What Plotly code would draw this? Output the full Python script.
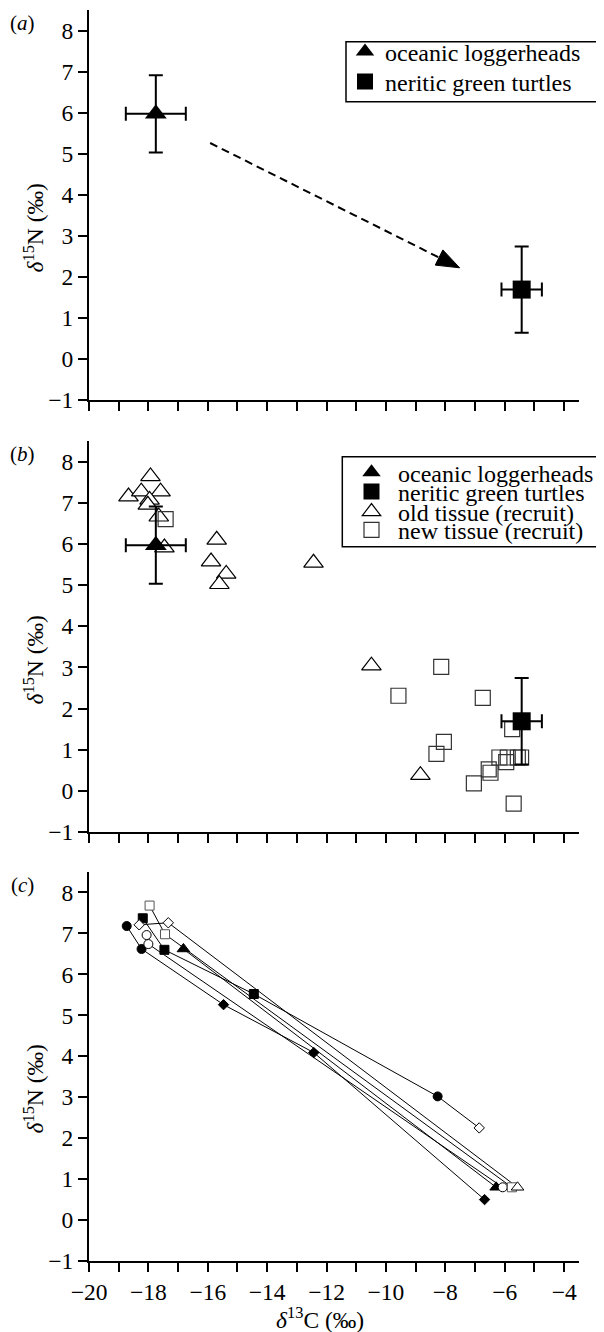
import plotly.graph_objects as go

FONT = "Liberation Serif"
FS = 23.5
LFS = 24

# ---------------- data ----------------
# group means (panels a, b)
ocean_x = [-17.75]
ocean_y = [5.97]
ocean_xerr = [1.01]
ocean_yerr = [0.94]

neritic_x = [-5.43]
neritic_y = [1.69]
neritic_xerr = [0.68]
neritic_yerr = [1.05]

# panel (a) arrow: start and tip (data units)
arrow_start = [-15.92, 5.26]
arrow_tip = [-7.52, 2.22]

# panel (b) recruits
old_x = [-18.67, -18.24, -17.93, -17.59, -17.96, -18.02, -17.65, -17.46,
         -15.70, -15.89, -15.38, -15.61, -12.44, -10.49, -8.84]
old_y = [7.15, 7.27, 7.64, 7.27, 7.07, 6.95, 6.66, 5.91,
         6.10, 5.57, 5.27, 5.02, 5.54, 3.04, 0.38]
new_x = [-17.42, -8.14, -9.58, -6.74, -5.75, -8.05, -8.30, -7.04, -6.48,
         -6.54, -6.18, -5.95, -5.90, -5.56, -5.45, -5.70]
new_y = [6.60, 3.01, 2.31, 2.26, 1.50, 1.19, 0.90, 0.18, 0.44,
         0.52, 0.81, 0.70, 0.81, 0.81, 0.81, -0.31]

# panel (c) connected tracks (per-point symbols / fills)
c_t1_x = [-18.73, -18.23, -15.47, -12.43, -6.68]
c_t1_y = [7.18, 6.62, 5.26, 4.09, 0.50]
c_t1_sym = ["circle", "circle", "diamond", "diamond", "diamond"]
c_t1_open = [False, False, False, False, False]

c_t2_x = [-18.19, -17.46, -14.45, -8.26, -6.86]
c_t2_y = [7.37, 6.60, 5.52, 3.02, 2.25]
c_t2_sym = ["square", "square", "square", "circle", "diamond"]
c_t2_open = [False, False, False, False, True]

c_t3_x = [-16.82, -6.29]
c_t3_y = [6.62, 0.80]
c_t3_sym = ["triangle-up", "triangle-up"]
c_t3_open = [False, False]

c_t4_x = [-18.06, -18.00, -6.07]
c_t4_y = [6.96, 6.74, 0.80]
c_t4_sym = ["circle", "circle", "circle"]
c_t4_open = [True, True, True]

c_t5_x = [-17.96, -17.44, -5.76]
c_t5_y = [7.68, 6.98, 0.80]
c_t5_sym = ["square", "square", "square"]
c_t5_open = [True, True, True]

c_t6_x = [-18.31, -17.33, -5.57]
c_t6_y = [7.21, 7.26, 0.80]
c_t6_sym = ["diamond", "diamond", "triangle-up"]
c_t6_open = [True, True, True]

x_ticks = list(range(-20, -3))
x_major = [v for v in x_ticks if v % 2 == 0]
x_minor = [v for v in x_ticks if v % 2 != 0]
x_major_labels = [str(v).replace("-", "\u2212") for v in x_major]
y_ticks = list(range(-1, 9))

legend_a_names = ["oceanic loggerheads", "neritic green turtles"]
legend_b_names = ["oceanic loggerheads", "neritic green turtles",
                  "old tissue (recruit)", "new tissue (recruit)"]

# ---------------- layout geometry (page pixels) ----------------
BODY = 8                      # default body margin of the html page
W, H = 604 - BODY, 1332 - BODY
PLOT_L, PLOT_R, PLOT_T, PLOT_B = 89, 579, 10, 1261   # plot area on the page
ML = PLOT_L - BODY
MT = PLOT_T - BODY
MR = BODY + W - PLOT_R
MB = BODY + H - PLOT_B
PW = PLOT_R - PLOT_L
PH = PLOT_B - PLOT_T
XR = [-20, -3.5]
YR = [-1, 8.5]
KX = PW / (XR[1] - XR[0])


def px(x):
    return (x - PLOT_L) / PW


def py(y):
    return (PLOT_B - y) / PH


dom_a = [py(400), 1.0]
dom_b = [py(832), py(441)]
dom_c = [0.0, py(872)]
KY = (dom_a[1] - dom_a[0]) * PH / (YR[1] - YR[0])

fig = go.Figure()


def err(vals):
    return dict(type="data", array=vals, color="black", thickness=2, width=7)


def means(xa, ya, legend_ids):
    fig.add_trace(go.Scatter(
        x=ocean_x, y=ocean_y, mode="markers", name=legend_a_names[0],
        xaxis=xa, yaxis=ya, legend=legend_ids[0],
        error_x=err(ocean_xerr), error_y=err(ocean_yerr),
        marker=dict(symbol="triangle-up", size=19, color="black")))
    fig.add_trace(go.Scatter(
        x=neritic_x, y=neritic_y, mode="markers", name=legend_a_names[1],
        xaxis=xa, yaxis=ya, legend=legend_ids[1],
        error_x=err(neritic_xerr), error_y=err(neritic_yerr),
        marker=dict(symbol="square", size=18, color="black")))


# panel (a)
means("x", "y", ["legend", "legend2"])

# panel (b)
fig.add_trace(go.Scatter(
    x=old_x, y=old_y, mode="markers", name=legend_b_names[2],
    xaxis="x2", yaxis="y2", legend="legend5",
    marker=dict(symbol="triangle-up", size=17, color="white",
                line=dict(color="black", width=1.2))))
fig.add_trace(go.Scatter(
    x=new_x, y=new_y, mode="markers", name=legend_b_names[3],
    xaxis="x2", yaxis="y2", legend="legend6",
    marker=dict(symbol="square", size=15, color="rgba(255,255,255,0)",
                line=dict(color="#333333", width=1.2))))
means("x2", "y2", ["legend3", "legend4"])

# panel (c)
SIZES = {"circle": 9, "square": 9, "diamond": 8, "triangle-up": 11}
tracks = [
    (c_t1_x, c_t1_y, c_t1_sym, c_t1_open),
    (c_t2_x, c_t2_y, c_t2_sym, c_t2_open),
    (c_t3_x, c_t3_y, c_t3_sym, c_t3_open),
    (c_t4_x, c_t4_y, c_t4_sym, c_t4_open),
    (c_t5_x, c_t5_y, c_t5_sym, c_t5_open),
    (c_t6_x, c_t6_y, c_t6_sym, c_t6_open),
]
for tx, ty, tsym, topen in tracks:
    fig.add_trace(go.Scatter(
        x=tx, y=ty, mode="lines", showlegend=False, xaxis="x3", yaxis="y3",
        line=dict(color="black", width=1), hoverinfo="skip"))
for tx, ty, tsym, topen in tracks:
    fig.add_trace(go.Scatter(
        x=tx, y=ty, mode="markers", showlegend=False, xaxis="x3", yaxis="y3",
        marker=dict(symbol=tsym, size=[SIZES[s] for s in tsym], opacity=1,
                    color=["#ffffff" if o else "#000000" for o in topen],
                    line=dict(color=["#555555" if (o and s == "square") else "#000000"
                                     for s, o in zip(tsym, topen)], width=1))))

# ---------------- axes ----------------
axis_common = dict(showline=True, linecolor="black", linewidth=2,
                   ticks="outside", ticklen=9, tickwidth=1.5, tickcolor="black",
                   showgrid=False, zeroline=False,
                   tickfont=dict(family=FONT, size=FS, color="black"))
minor_x = dict(tickmode="array", tickvals=x_minor, ticks="outside", ticklen=9,
               tickwidth=1.5, tickcolor="black", showgrid=False)

for i, dom in zip(["", "2", "3"], [dom_a, dom_b, dom_c]):
    fig.update_layout(**{
        "xaxis" + i: dict(axis_common, range=XR, domain=[0, 1],
                          anchor="y" + i, tickmode="array", tickvals=x_major,
                          ticktext=x_major_labels, showticklabels=(i == "3"),
                          minor=minor_x),
        "yaxis" + i: dict(axis_common, range=YR, domain=dom,
                          anchor="x" + i, tickmode="array", tickvals=y_ticks),
    })

# ---------------- legends ----------------
leg_font = dict(family=FONT, size=LFS, color="black")


def leg(xpix, ypix, itemw):
    return dict(x=px(xpix), y=py(ypix - 3), xanchor="left", yanchor="middle",
                bgcolor="rgba(0,0,0,0)", borderwidth=0, font=leg_font,
                itemwidth=itemw)


fig.update_layout(
    legend=leg(345, 55, 30),
    legend2=leg(345, 85, 30),
    legend3=leg(345, 475.7, 43),
    legend4=leg(345, 495, 43),
    legend5=leg(345, 515, 43),
    legend6=leg(345, 533.3, 43),
)

# arrow geometry (computed in screen pixels from start/tip)
sx = (arrow_tip[0] - arrow_start[0]) * KX
sy = -(arrow_tip[1] - arrow_start[1]) * KY
ln = (sx ** 2 + sy ** 2) ** 0.5
ux, uy = sx / ln, sy / ln
HEAD_L, HEAD_HW = 23, 8.5


def off(dxp, dyp):
    return arrow_tip[0] + dxp / KX, arrow_tip[1] - dyp / KY


base = off(-HEAD_L * ux, -HEAD_L * uy)
c1 = off(-HEAD_L * ux - HEAD_HW * uy, -HEAD_L * uy + HEAD_HW * ux)
c2 = off(-HEAD_L * ux + HEAD_HW * uy, -HEAD_L * uy - HEAD_HW * ux)
head_path = "M {} {} L {} {} L {} {} Z".format(arrow_tip[0], arrow_tip[1],
                                               c1[0], c1[1], c2[0], c2[1])

shapes = [
    dict(type="rect", xref="paper", yref="paper",
         x0=px(346), x1=px(612), y0=py(101.7), y1=py(41.7),
         line=dict(color="black", width=1.5)),
    dict(type="rect", xref="paper", yref="paper",
         x0=px(342.3), x1=px(603.3), y0=py(546.7), y1=py(456.7),
         line=dict(color="black", width=1.5)),
    dict(type="line", xref="x", yref="y",
         x0=arrow_start[0], y0=arrow_start[1], x1=base[0], y1=base[1],
         line=dict(color="black", width=2, dash="8px,5px")),
    dict(type="path", xref="x", yref="y", path=head_path,
         fillcolor="black", line=dict(color="black", width=1)),
]

ytitle = "<i>\u03b4</i><sup>15</sup>N (\u2030)"
annotations = []
for lab, ycen in [("a", 23), ("b", 454), ("c", 885)]:
    annotations.append(dict(xref="paper", yref="paper", x=px(22.5), y=py(ycen),
                            text="(<i>%s</i>)" % lab, showarrow=False,
                            xanchor="center", yanchor="middle",
                            font=dict(family=FONT, size=21, color="black")))
for ycen in [228, 660, 1089]:
    annotations.append(dict(xref="paper", yref="paper", x=px(33.5), y=py(ycen),
                            text=ytitle, textangle=-90, showarrow=False,
                            xanchor="center", yanchor="middle",
                            font=dict(family=FONT, size=FS, color="black")))
annotations.append(dict(xref="paper", yref="paper", x=px(320), y=py(1318),
                        text="<i>\u03b4</i><sup>13</sup>C (\u2030)", showarrow=False,
                        xanchor="center", yanchor="middle",
                        font=dict(family=FONT, size=FS, color="black")))

fig.update_layout(
    width=W, height=H,
    margin=dict(l=ML, r=MR, t=MT, b=MB, pad=0),
    paper_bgcolor="white", plot_bgcolor="white",
    font=dict(family=FONT, size=FS, color="black"),
    shapes=shapes, annotations=annotations,
)

fig.write_html("out.html")
